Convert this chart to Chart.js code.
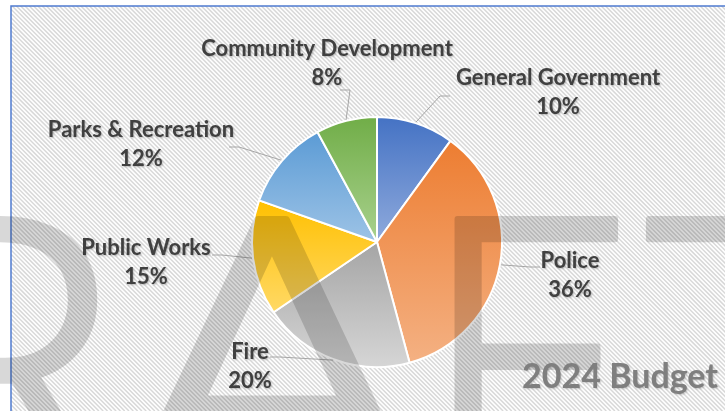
<!DOCTYPE html>
<html>
<head>
<meta charset="utf-8">
<script src="https://cdn.jsdelivr.net/npm/chart.js@4.4.1/dist/chart.umd.min.js"></script>
<style>
  html, body { margin: 0; padding: 0; background: #fff; }
  #wrap { width: 725px; height: 411px; position: relative; }
</style>
</head>
<body>
<div id="wrap"><canvas id="budgetChart" width="725" height="411"></canvas></div>
<script>
// Data
const categories = [
  "General Government",
  "Police",
  "Fire",
  "Public Works",
  "Parks & Recreation",
  "Community Development",
];
const budgetShare = [10.0, 35.8, 19.7, 14.9, 11.7, 7.9];

// Slice colours (top of slice -> bottom of slice)
const topColors = ["#4472C4", "#ED7D31", "#A5A5A5", "#FFC000", "#5B9BD5", "#70AD47"];
const bottomColors = ["#8FAADC", "#F4B183", "#D6D6D6", "#FFD966", "#9DC3E6", "#A9D18E"];

// label layout: offsets from pie centre for the name line and the leader end
const labelOffsets = [
  { tx: 181, ty: -164, ex: 73, ey: -146 },
  { tx: 193, ty: 19, ex: 163, ey: 25 },
  { tx: -127, ty: 110, ex: -107, ey: 115 },
  { tx: -231, ty: 6, ex: -165, ey: 13 },
  { tx: -236, ty: -112, ex: -148, ey: -95 },
  { tx: -50, ty: -193, ex: -37, ey: -152 },
];

const total = budgetShare.reduce((a, b) => a + b, 0);

function pieGeom(chart) {
  const a = chart.chartArea;
  return {
    cx: (a.left + a.right) / 2,
    cy: (a.top + a.bottom) / 2,
    r: Math.min(a.right - a.left, a.bottom - a.top) / 2,
  };
}

// angle measured clockwise from 12 o'clock
function sliceAngles(i) {
  let start = 0;
  for (let k = 0; k < i; k++) start += (budgetShare[k] / total) * Math.PI * 2;
  return [start, start + (budgetShare[i] / total) * Math.PI * 2];
}

function sliceFill(c) {
  const chart = c.chart;
  const i = c.dataIndex;
  if (!chart.chartArea) return topColors[i];
  const g = pieGeom(chart);
  const [a0, a1] = sliceAngles(i);
  const ys = [g.cy, g.cy - g.r * Math.cos(a0), g.cy - g.r * Math.cos(a1)];
  if (a0 <= 0) ys.push(g.cy - g.r);
  if (a0 <= Math.PI && a1 >= Math.PI) ys.push(g.cy + g.r);
  const y0 = Math.min(...ys);
  const y1 = Math.max(...ys);
  const grad = chart.ctx.createLinearGradient(0, y0, 0, y1);
  grad.addColorStop(0, topColors[i]);
  grad.addColorStop(1, bottomColors[i]);
  return grad;
}

const backdrop = {
  id: "backdrop",
  beforeDraw(chart) {
    const ctx = chart.ctx;
    const w = chart.width, h = chart.height;
    ctx.save();
    ctx.fillStyle = "#fff";
    ctx.fillRect(0, 0, w, h);
    ctx.beginPath();
    ctx.rect(11, 6, w, h);
    ctx.clip();
    ctx.strokeStyle = "#d8d8d8";
    ctx.lineWidth = 1.5;
    for (let x = -h; x < w + h; x += 4.3) {
      ctx.beginPath();
      ctx.moveTo(x, 0);
      ctx.lineTo(x + h, h);
      ctx.stroke();
    }
    ctx.restore();
    ctx.save();
    ctx.strokeStyle = "#4F7BD0";
    ctx.lineWidth = 1.5;
    ctx.beginPath();
    ctx.moveTo(11, h + 2);
    ctx.lineTo(11, 6);
    ctx.lineTo(w + 2, 6);
    ctx.stroke();
    ctx.restore();
  },
};

const outsideLabels = {
  id: "outsideLabels",
  afterDatasetsDraw(chart) {
    const ctx = chart.ctx;
    const g = pieGeom(chart);
    ctx.save();
    categories.forEach((name, i) => {
      const [a0, a1] = sliceAngles(i);
      const mid = (a0 + a1) / 2;
      const sx = g.cx + g.r * Math.sin(mid);
      const sy = g.cy - g.r * Math.cos(mid);
      const o = labelOffsets[i];
      const ex = g.cx + o.ex, ey = g.cy + o.ey;
      const dir = o.ex > 0 ? -1 : 1;
      ctx.strokeStyle = "#A6A6A6";
      ctx.lineWidth = 1;
      ctx.beginPath();
      ctx.moveTo(sx, sy);
      ctx.lineTo(ex + dir * 10, ey);
      ctx.lineTo(ex, ey);
      ctx.stroke();

      const pct = Math.round((budgetShare[i] / total) * 100) + "%";
      ctx.font = "bold 22px Lato";
      ctx.fillStyle = "#404040";
      ctx.textAlign = "center";
      ctx.textBaseline = "middle";
      ctx.shadowColor = "rgba(0,0,0,0.25)";
      ctx.shadowBlur = 2;
      ctx.shadowOffsetX = 1;
      ctx.shadowOffsetY = 1;
      ctx.fillText(name, g.cx + o.tx, g.cy + o.ty);
      ctx.fillText(pct, g.cx + o.tx, g.cy + o.ty + 29);
      ctx.shadowColor = "transparent";
    });
    ctx.restore();
  },
};

const watermark = {
  id: "watermark",
  afterDraw(chart) {
    const ctx = chart.ctx;
    // letters drawn solid on a scratch canvas, then laid over with low alpha
    const off = document.createElement("canvas");
    off.width = chart.width;
    off.height = chart.height;
    const o = off.getContext("2d");
    o.fillStyle = "#000";
    o.strokeStyle = "#000";
    o.lineWidth = 6;
    o.lineJoin = "round";
    o.font = "300 390px Roboto";
    o.textAlign = "left";
    o.textBaseline = "alphabetic";
    const base = 216 + o.measureText("F").actualBoundingBoxAscent;
    const draw = (ch, x, sx) => {
      o.save();
      o.translate(x, base);
      o.scale(sx, 1);
      o.fillText(ch, 0, 0);
      o.strokeText(ch, 0, 0);
      o.restore();
    };
    const place = (ch, edge, side, sx = 1) => {
      const m = o.measureText(ch);
      let x;
      if (side === "left") x = edge + m.actualBoundingBoxLeft * sx;
      else if (side === "right") x = edge - m.actualBoundingBoxRight * sx;
      else x = edge - ((m.actualBoundingBoxRight - m.actualBoundingBoxLeft) / 2) * sx;
      draw(ch, x, sx);
    };
    place("D", -90, "right");
    place("R", 107, "right");
    place("A", 272, "center", 1.25);
    place("F", 453, "left", 0.92);
    place("T", 645, "left");

    ctx.save();
    ctx.globalAlpha = 0.15;
    ctx.drawImage(off, 0, 0);
    ctx.restore();

    ctx.save();
    ctx.font = "bold 34px Lato";
    ctx.fillStyle = "#7F7F7F";
    ctx.textAlign = "right";
    ctx.textBaseline = "alphabetic";
    ctx.shadowColor = "rgba(0,0,0,0.2)";
    ctx.shadowBlur = 2;
    ctx.shadowOffsetX = 1;
    ctx.shadowOffsetY = 1;
    ctx.fillText("2024 Budget", 718, 388);
    ctx.restore();
  },
};

const ctx = document.getElementById("budgetChart").getContext("2d");
const budgetChart = new Chart(ctx, {
  type: "pie",
  data: {
    labels: categories,
    datasets: [
      {
        data: budgetShare,
        backgroundColor: sliceFill,
        borderColor: "#fff",
        borderWidth: 2,
      },
    ],
  },
  options: {
    responsive: false,
    animation: false,
    layout: {
      padding: { left: 251, right: 222, top: 116, bottom: 43 },
    },
    plugins: {
      legend: { display: false },
      tooltip: { enabled: false },
    },
  },
  plugins: [backdrop, outsideLabels, watermark],
});
</script>
</body>
</html>
